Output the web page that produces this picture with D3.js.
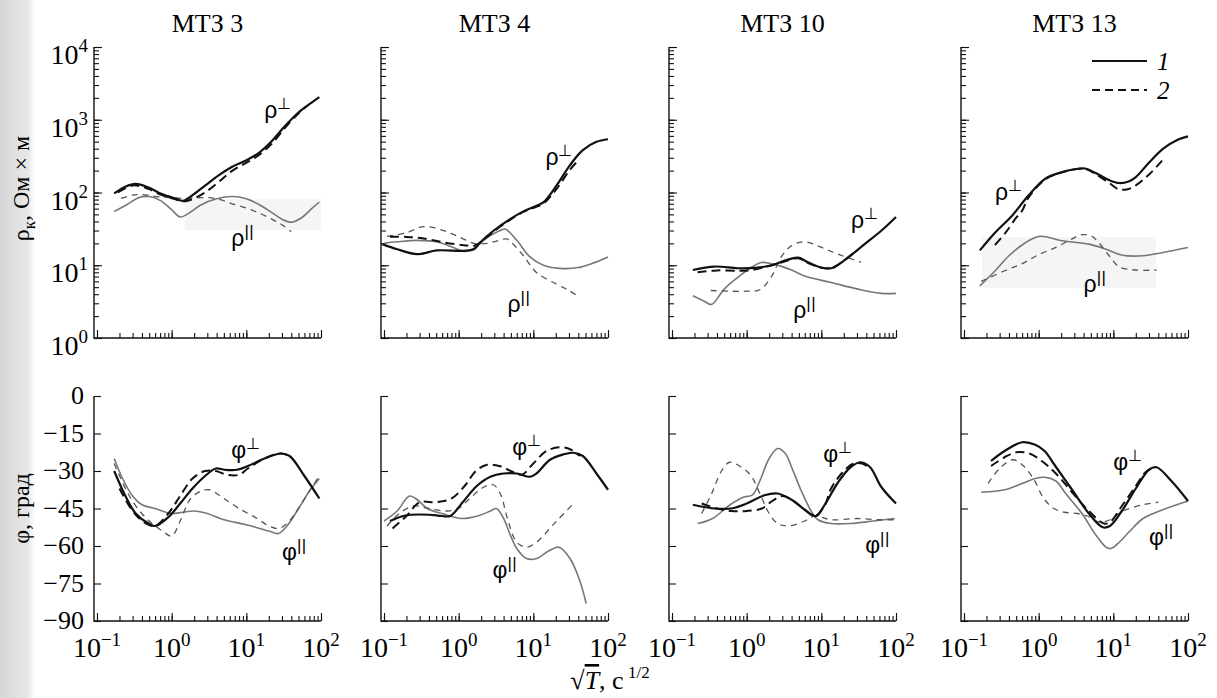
<!DOCTYPE html>
<html>
<head>
<meta charset="utf-8">
<script src="https://cdnjs.cloudflare.com/ajax/libs/d3/7.8.5/d3.min.js"></script>
<style>
  body { margin: 0; background: #fff; }
  svg { display: block; font-family: "Liberation Serif", "Times New Roman", serif; }
</style>
</head>
<body>
<svg id="chart" width="1217" height="698"></svg>
<script>
// Station names (panel titles)
const stations = ["МТЗ 3", "МТЗ 4", "МТЗ 10", "МТЗ 13"];

// Tick values
const xDecades = [0.1, 1, 10, 100];
const rhoDecades = [1, 10, 100, 1000, 10000];
const phiTicks = [0, -15, -30, -45, -60, -75, -90];

// Curves: [sqrt(T), value]. 1 = solid, 2 = dashed
// МТЗ 3
const rhoPerp1_3 = [[0.17,97],[0.24,120],[0.33,131],[0.49,117],[0.74,95],[1.1,83],[1.43,77],[1.85,90],[2.8,124],[4.2,171],[6.3,223],[9.5,271],[14.3,343],[21.5,499],[32.5,807],[49,1240],[74,1710],[95,2050]];
const rhoPerp2_3 = [[0.19,100],[0.3,125],[0.49,112],[0.74,92],[1.1,81],[1.43,75],[1.85,80],[2.8,100],[4.2,138],[6.3,195],[9.5,250],[14.3,320],[21.5,460],[32.5,760],[49,1200],[65,1550]];
const rhoPar1_3 = [[0.17,55],[0.25,68],[0.36,85],[0.5,88],[0.7,78],[1.0,58],[1.3,46],[1.6,50],[2.5,68],[4,82],[6.5,88],[10,82],[15,68],[22,53],[30,43],[40,39],[55,45],[75,60],[95,74]];
const rhoPar2_3 = [[0.21,83],[0.3,92],[0.44,93],[0.66,87],[1.0,85],[1.5,83],[3,85],[4.5,80],[6.2,71],[10,61],[15,52],[22,43],[30,36],[40,29]];
const phiPerp1_3 = [[0.17,-30],[0.24,-40],[0.33,-47],[0.49,-51],[0.6,-52],[0.9,-48.5],[1.3,-43],[1.9,-37],[2.8,-32],[3.9,-29],[5.1,-29.5],[7.5,-29.5],[10.5,-28],[17.5,-25],[29,-23],[38,-24],[60,-32],[95,-41]];
const phiPerp2_3 = [[0.2,-37],[0.3,-46],[0.45,-51],[0.6,-52],[0.9,-47],[1.3,-40],[1.9,-33],[2.8,-30],[3.9,-30],[5.5,-31.5],[8,-31.5],[10.5,-29],[17.5,-25],[29,-23],[38,-24]];
const phiPar1_3 = [[0.17,-25],[0.22,-33],[0.3,-40],[0.4,-43.5],[0.6,-45],[1.0,-47],[1.4,-46.5],[2,-46],[3,-47],[5,-49.5],[10,-51.5],[20,-54],[27,-55],[35,-52],[50,-45],[70,-38],[95,-33]];
const phiPar2_3 = [[0.17,-27],[0.25,-38],[0.35,-45],[0.5,-50],[0.75,-54],[1.0,-56],[1.3,-50],[1.8,-41],[2.5,-38],[3.2,-37.5],[5,-41],[8,-45],[14,-49],[20,-52],[27,-53],[35,-51],[50,-45],[70,-38],[90,-33]];

// МТЗ 4
const rhoPerp1_4 = [[0.095,19.5],[0.15,16.6],[0.28,14.2],[0.51,16],[1.17,15.8],[1.6,16.6],[1.94,20.6],[2.93,29.8],[4.88,43],[7.36,55],[11.1,66],[13.6,73],[20.5,125],[30.8,236],[45.6,380],[70,497],[100,540]];
const rhoPerp2_4 = [[0.12,24.6],[0.2,24.5],[0.34,23.4],[0.63,20.6],[1.17,18.9],[1.6,18.5],[2.0,21],[2.93,29],[4.88,42],[7.36,54],[11.1,64],[13.6,70],[20.5,112],[30.8,205],[41.9,290]];
const rhoPar1_4 = [[0.1,20],[0.15,21],[0.28,22],[0.5,21],[0.8,18],[1.17,15.5],[1.6,17],[2.4,24],[3.6,30],[4.2,31.5],[6,22],[9,13],[13.6,10],[25,9],[40,9.3],[60,10.5],[100,13]];
const rhoPar2_4 = [[0.11,25],[0.2,28],[0.34,34],[0.63,30],[1.06,24],[1.6,20],[2.4,20],[3.3,21.7],[4.4,23],[5.5,19],[7.36,13.5],[11.1,7.9],[20.5,5.5],[30,4.5],[41.9,3.6]];
const phiPerp1_4 = [[0.12,-50],[0.18,-48],[0.23,-47.5],[0.4,-47.5],[0.6,-48],[0.77,-48],[1.17,-42],[1.75,-36],[2.66,-32.3],[4,-31],[6,-31],[9,-32.3],[11,-31],[16.7,-25.5],[25,-23.4],[34,-22.7],[46,-24],[70,-31],[100,-37.5]];
const phiPerp2_4 = [[0.13,-53],[0.2,-48],[0.3,-42.5],[0.5,-42.5],[0.8,-41],[1.2,-36],[1.7,-30],[2.4,-27.5],[3.5,-28],[5,-30],[7,-31.5],[10,-27],[15,-22],[23,-20.5],[32,-21.5],[42,-24]];
const phiPar1_4 = [[0.1,-50],[0.15,-46],[0.22,-40],[0.28,-41.5],[0.38,-45],[0.6,-47],[1.1,-49],[1.8,-48],[2.66,-46],[3.2,-45],[4,-49],[4.9,-55.5],[6,-61],[8.1,-65],[11.1,-65],[16,-62],[22,-60.5],[31,-65],[42,-74],[51,-83]];
const phiPar2_4 = [[0.11,-52],[0.16,-47],[0.25,-44],[0.4,-45],[0.7,-46],[1.0,-45],[1.3,-42],[2.15,-36.5],[2.9,-35.5],[3.6,-39],[4.6,-50],[6,-58.5],[8.1,-60.5],[11,-58.5],[20.5,-50],[36,-42.5]];

// МТЗ 10
const rhoPerp1_10 = [[0.19,8.6],[0.37,9.6],[0.76,9.1],[1.3,9.2],[1.8,9.6],[2.5,10.5],[3.4,11.8],[4.9,12.7],[6.6,11],[10,9.3],[13.5,9.1],[16,9.8],[22.7,12.7],[38,19.5],[64,30],[100,46]];
const rhoPerp2_10 = [[0.22,8.0],[0.4,8.5],[0.8,8.4],[1.2,8.6],[1.8,9.5],[3.0,11],[4.9,12.5],[6.6,10.8],[10,9.2],[13.5,9.1],[16,9.9],[22.7,12.8],[30,16]];
const rhoPar1_10 = [[0.19,3.8],[0.27,3.2],[0.34,2.9],[0.5,4.7],[0.76,6.8],[1.15,9.3],[1.57,10.9],[2.15,10.5],[2.8,9.8],[4,8.6],[6,7.1],[13.5,5.8],[31,4.7],[64,4.1],[100,4.1]];
const rhoPar2_10 = [[0.33,4.5],[0.6,4.4],[1.0,4.4],[1.5,4.6],[2.15,7],[2.9,13],[3.96,18.5],[6,21],[10,17.6],[16.7,14.2],[34,11]];
const phiPerp1_10 = [[0.19,-43.5],[0.37,-45],[0.62,-45],[1.0,-43],[1.73,-39.7],[2.6,-39],[4,-41.5],[6,-45.5],[8.5,-48],[11.1,-43.5],[16.7,-34.6],[25,-28.3],[34,-26.5],[45,-28.5],[64,-36.5],[100,-43]];
const phiPerp2_10 = [[0.25,-43],[0.4,-45],[0.62,-46],[1.0,-46],[1.6,-45],[2.2,-42],[3.0,-40],[4,-41.5],[6,-45.5],[8.1,-48],[11,-44],[13.5,-37],[20,-30],[27,-27],[35,-27],[45,-29]];
const phiPar1_10 = [[0.22,-51],[0.35,-49],[0.6,-43.5],[0.9,-40.5],[1.2,-39.5],[1.5,-34],[2.0,-25],[2.6,-21],[3.3,-23],[4,-28.5],[5.4,-38],[7.3,-46],[9,-49.5],[13.5,-51],[25,-51],[50,-50],[96,-49]];
const phiPar2_10 = [[0.25,-47],[0.34,-39],[0.46,-30],[0.59,-26.5],[0.85,-28.5],[1.15,-32],[1.5,-39],[2.0,-47],[2.6,-51],[3.6,-52],[6,-50],[8.1,-48],[13.5,-49.5],[30,-49],[60,-49.5],[96,-49.5]];

// МТЗ 13
const rhoPerp1_13 = [[0.163,16],[0.26,28],[0.44,48],[0.73,91],[1.23,155],[2.07,191],[3.4,212],[4.2,214],[5.8,185],[8.8,148],[12,135],[16,142],[20,163],[30.6,263],[46.6,402],[70.6,523],[100,590]];
const rhoPerp2_13 = [[0.26,19],[0.36,28],[0.5,45],[0.6,56],[0.73,85],[1.23,152],[2.07,190],[3.4,212],[4.2,212],[5.8,180],[8.8,135],[12,110],[16,112],[20,125],[30.6,180],[45,275]];
const rhoPar1_13 = [[0.163,5.2],[0.25,8],[0.4,13.5],[0.6,19],[0.9,24],[1.1,25],[2.07,21.7],[4.7,19.5],[8,16.6],[13.3,13.7],[25,13.5],[46.6,15],[100,17.5]];
const rhoPar2_13 = [[0.17,6],[0.35,8.4],[0.6,10.5],[1.0,14],[1.67,17.5],[2.8,23],[3.6,26],[5,25.5],[6.5,20],[8.8,13.5],[12,9.5],[20,8.6],[38,8.6]];
const phiPerp1_13 = [[0.23,-26],[0.35,-22],[0.6,-18.5],[0.9,-19.5],[1.2,-22],[1.67,-28],[2.8,-37.5],[4.7,-47],[7.2,-52.5],[9,-52],[13,-46],[20,-37],[30,-29.5],[38,-28.5],[60,-34],[100,-42]];
const phiPerp2_13 = [[0.23,-28],[0.35,-24.5],[0.5,-22.5],[0.75,-23],[1.1,-26],[1.7,-31],[2.8,-38.5],[4.7,-46],[7.5,-51],[9,-50.5],[13,-44],[20,-36],[27,-30.5],[35,-28.5]];
const phiPar1_13 = [[0.17,-38.5],[0.35,-37.5],[0.6,-35],[0.9,-33],[1.2,-32.5],[1.7,-34],[2.3,-39],[3.8,-47],[5.8,-55.5],[8,-60.5],[9.3,-61],[12,-58.5],[16.7,-54],[25,-49],[46,-45.5],[100,-42]];
const phiPar2_13 = [[0.21,-35],[0.3,-29],[0.45,-25.5],[0.6,-27.5],[0.85,-33],[1.17,-41],[1.6,-45],[2.2,-46.5],[3.3,-47],[4.5,-48],[6.5,-50.5],[9,-49.5],[13.5,-46],[25,-43.5],[40,-42.5]];

// Curve label anchors [x, value] for ρ⊥, ρ||, φ⊥, φ||
const rhoPerpLabel = [[17.4,1050],[14.5,239],[25,32.5],[0.26,79]];
const rhoParLabel  = [[6.3,18.4],[4.5,2.3],[4.2,1.9],[4,4.3]];
const phiPerpLabel = [[6.3,-24.8],[5.2,-23.6],[10.6,-26.4],[10,-29.6]];
const phiParLabel  = [[30,-65.6],[2.84,-72.8],[38.6,-62.8],[30,-59.6]];

// Faint grey scan patches [x0, x1, rho0, rho1]
const patches = [[1.49,100,30.5,81],null,null,[0.174,37,4.9,24.4]];

// build panel table
const panels = [
  { rho: [rhoPerp1_3, rhoPerp2_3, rhoPar1_3, rhoPar2_3], phi: [phiPerp1_3, phiPerp2_3, phiPar1_3, phiPar2_3] },
  { rho: [rhoPerp1_4, rhoPerp2_4, rhoPar1_4, rhoPar2_4], phi: [phiPerp1_4, phiPerp2_4, phiPar1_4, phiPar2_4] },
  { rho: [rhoPerp1_10, rhoPerp2_10, rhoPar1_10, rhoPar2_10], phi: [phiPerp1_10, phiPerp2_10, phiPar1_10, phiPar2_10] },
  { rho: [rhoPerp1_13, rhoPerp2_13, rhoPar1_13, rhoPar2_13], phi: [phiPerp1_13, phiPerp2_13, phiPar1_13, phiPar2_13] }
];

// Line styles, in the same order as the curves
const styles = [
  { stroke: "#111", width: 2.2, dash: null },
  { stroke: "#111", width: 2.0, dash: "9,5" },
  { stroke: "#777", width: 1.6, dash: null },
  { stroke: "#555", width: 1.3, dash: "6,5" }
];

const svg = d3.select("#chart");

// Layout
const panelLeft = [94, 381, 669, 961];
const panelW = 227;
const rhoTop = 47, rhoBottom = 338;
const phiTop = 396, phiBottom = 621;

const yRho = d3.scaleLog().domain([1, 1e4]).range([rhoBottom, rhoTop]);
const yPhi = d3.scaleLinear().domain([-90, 0]).range([phiBottom, phiTop]);

// Minor ticks for log axes
function logTicks(lo, hi) {
  const t = [];
  for (let e = lo; e < hi; e++) for (let m = 1; m < 10; m++) t.push(m * Math.pow(10, e));
  t.push(Math.pow(10, hi));
  return t;
}
const xMinor = logTicks(-1, 2);
const rhoMinor = logTicks(0, 4);

// Scan shadow on the left edge
const defs = svg.append("defs");
const grad = defs.append("linearGradient").attr("id", "edge").attr("x1", 0).attr("x2", 1);
grad.append("stop").attr("offset", "0%").attr("stop-color", "#d6d6d6");
grad.append("stop").attr("offset", "80%").attr("stop-color", "#e8e8e8");
grad.append("stop").attr("offset", "100%").attr("stop-color", "#fff");
svg.append("rect").attr("x", 0).attr("y", 0).attr("width", 35).attr("height", 698).attr("fill", "url(#edge)");

function cleanAxis(g) {
  g.select(".domain").remove();
  g.selectAll(".tick line").attr("stroke", "#111").attr("stroke-width", 1.1);
}

stations.forEach((name, i) => {
  const L = panelLeft[i];
  const x = d3.scaleLog().domain([0.1, 100]).range([L + 3, L + panelW]);
  const g = svg.append("g");

  // grey patch
  if (patches[i]) {
    const p = patches[i];
    g.append("rect")
      .attr("x", x(p[0])).attr("width", x(p[1]) - x(p[0]))
      .attr("y", yRho(p[3])).attr("height", yRho(p[2]) - yRho(p[3]))
      .attr("fill", "#f5f5f5");
  }

  // title
  g.append("text")
    .attr("x", L + panelW / 2).attr("y", 32)
    .attr("text-anchor", "middle")
    .attr("font-size", 26)
    .text(name);

  // ---- rho panel axes
  g.append("g").attr("transform", `translate(0,${rhoBottom})`)
    .call(d3.axisBottom(x).tickValues(xMinor).tickSize(-5).tickSizeOuter(0).tickFormat(""))
    .call(cleanAxis);
  g.append("g").attr("transform", `translate(0,${rhoBottom})`)
    .call(d3.axisBottom(x).tickValues(xDecades).tickSize(-8).tickSizeOuter(0).tickFormat(""))
    .call(cleanAxis);
  g.append("g").attr("transform", `translate(${L},0)`)
    .call(d3.axisLeft(yRho).tickValues(rhoMinor).tickSize(-5).tickSizeOuter(0).tickFormat(""))
    .call(cleanAxis);
  g.append("g").attr("transform", `translate(${L},0)`)
    .call(d3.axisLeft(yRho).tickValues(rhoDecades).tickSize(-8).tickSizeOuter(0).tickFormat(""))
    .call(cleanAxis);
  g.append("path")
    .attr("d", `M${L},${rhoTop}V${rhoBottom}H${L + panelW}`)
    .attr("fill", "none").attr("stroke", "#111").attr("stroke-width", 1.4);

  // ---- phi panel axes
  g.append("g").attr("transform", `translate(0,${phiBottom})`)
    .call(d3.axisBottom(x).tickValues(xMinor).tickSize(-5).tickSizeOuter(0).tickFormat(""))
    .call(cleanAxis);
  g.append("g").attr("transform", `translate(0,${phiBottom})`)
    .call(d3.axisBottom(x).tickValues(xDecades).tickSize(-8).tickSizeOuter(0).tickFormat(""))
    .call(cleanAxis);
  g.append("g").attr("transform", `translate(${L},0)`)
    .call(d3.axisLeft(yPhi).tickValues(phiTicks).tickSize(-7).tickSizeOuter(0).tickFormat(""))
    .call(cleanAxis);
  g.append("path")
    .attr("d", `M${L},${phiTop}V${phiBottom}H${L + panelW}`)
    .attr("fill", "none").attr("stroke", "#111").attr("stroke-width", 1.4);

  // x tick labels under phi panel
  xDecades.forEach(v => {
    const e = Math.round(Math.log10(v));
    const t = g.append("text")
      .attr("x", x(v)).attr("y", 657)
      .attr("text-anchor", "middle")
      .attr("font-size", 28);
    t.append("tspan").text("10");
    t.append("tspan").attr("dy", -11).attr("font-size", 19).text(e < 0 ? "−1" : e);
  });

  // curves
  const lineRho = d3.line().x(d => x(d[0])).y(d => yRho(d[1])).curve(d3.curveCatmullRom.alpha(0.5));
  const linePhi = d3.line().x(d => x(d[0])).y(d => yPhi(d[1])).curve(d3.curveCatmullRom.alpha(0.5));
  const order = [2, 3, 1, 0];
  order.forEach(k => {
    const s = styles[k];
    g.append("path").datum(panels[i].rho[k])
      .attr("d", lineRho).attr("fill", "none")
      .attr("stroke", s.stroke).attr("stroke-width", s.width)
      .attr("stroke-dasharray", s.dash);
    g.append("path").datum(panels[i].phi[k])
      .attr("d", linePhi).attr("fill", "none")
      .attr("stroke", s.stroke).attr("stroke-width", s.width)
      .attr("stroke-dasharray", s.dash);
  });

  // curve labels
  function curveLabel(px, py, base, sup, parallel) {
    const t = g.append("text")
      .attr("x", px).attr("y", py)
      .attr("font-family", "'Liberation Sans', Arial, sans-serif")
      .attr("font-size", 23);
    t.append("tspan").text(base);
    t.append("tspan").attr("dy", -9).attr("font-size", parallel ? 17 : 16)
      .attr("letter-spacing", parallel ? 0.5 : 0).text(sup);
  }
  curveLabel(x(rhoPerpLabel[i][0]), yRho(rhoPerpLabel[i][1]), "ρ", "⊥", false);
  curveLabel(x(rhoParLabel[i][0]), yRho(rhoParLabel[i][1]), "ρ", "||", true);
  curveLabel(x(phiPerpLabel[i][0]), yPhi(phiPerpLabel[i][1]), "φ", "⊥", false);
  curveLabel(x(phiParLabel[i][0]), yPhi(phiParLabel[i][1]), "φ", "||", true);

  // y tick labels only on the first column
  if (i === 0) {
    rhoDecades.forEach(v => {
      const t = g.append("text")
        .attr("x", L - 6).attr("y", yRho(v) + 17)
        .attr("text-anchor", "end")
        .attr("font-size", 28);
      t.append("tspan").text("10");
      t.append("tspan").attr("dy", -12).attr("font-size", 19).text(Math.round(Math.log10(v)));
    });
    phiTicks.forEach(v => {
      g.append("text")
        .attr("x", L - 10).attr("y", yPhi(v) + 8)
        .attr("text-anchor", "end")
        .attr("font-size", 26)
        .text(v === 0 ? "0" : "−" + Math.abs(v));
    });
  }

  // legend in last panel
  if (i === 3) {
    const lx = L + 131, lw = 55;
    [[61, null, "1"], [90, "8,5", "2"]].forEach(([ly, dash, lab]) => {
      g.append("line")
        .attr("x1", lx).attr("x2", lx + lw).attr("y1", ly).attr("y2", ly)
        .attr("stroke", "#111").attr("stroke-width", 2)
        .attr("stroke-dasharray", dash);
      g.append("text")
        .attr("x", lx + lw + 10).attr("y", ly + 9)
        .attr("font-size", 25).attr("font-style", "italic")
        .text(lab);
    });
  }
});

// Y axis titles
const rhoTitle = svg.append("text")
  .attr("transform", `translate(29,${(rhoTop + rhoBottom) / 2 - 4}) rotate(-90)`)
  .attr("text-anchor", "middle")
  .attr("font-size", 24);
rhoTitle.append("tspan").text("ρ");
rhoTitle.append("tspan").attr("dy", 6).attr("font-size", 17).text("к");
rhoTitle.append("tspan").attr("dy", -6).text(", Ом × м");

svg.append("text")
  .attr("transform", `translate(29,${(phiTop + phiBottom) / 2}) rotate(-90)`)
  .attr("text-anchor", "middle")
  .attr("font-size", 24)
  .text("φ, град");

// X axis title
const xTitle = svg.append("text")
  .attr("x", 610).attr("y", 689)
  .attr("text-anchor", "middle")
  .attr("font-size", 26);
xTitle.append("tspan").text("√");
xTitle.append("tspan").attr("font-style", "italic").attr("text-decoration", "overline").text("T");
xTitle.append("tspan").text(", c");
xTitle.append("tspan").attr("dy", -11).attr("font-size", 17).text(" 1/2");
</script>
</body>
</html>
